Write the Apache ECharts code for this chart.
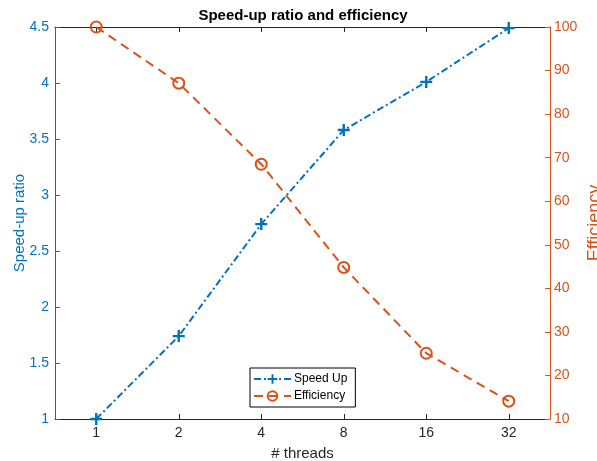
<!DOCTYPE html>
<html>
<head>
<meta charset="utf-8">
<script src="https://cdn.jsdelivr.net/npm/echarts@6/dist/echarts.min.js"></script>
<style>
  html, body { margin: 0; padding: 0; background: #fff; }
  #chart { width: 597px; height: 461px; }
</style>
</head>
<body>
<div id="chart"></div>
<script>
// data
var threads = ['1', '2', '4', '8', '16', '32'];
var speedUp = [1, 1.74, 2.74, 3.58, 4.01, 4.49];
var efficiency = [100, 87.1, 68.5, 44.8, 25.1, 14.1];

var BLUE = '#0072BD';
var ORANGE = '#D95319';
var DARK = '#262626';
var FONT = '"Liberation Sans", Arial, Helvetica, sans-serif';

// plus marker as a filled shape
var PLUS = 'path://M4,0h2v4h4v2h-4v4h-2v-4h-4v-2h4z';

var chart = echarts.init(document.getElementById('chart'));

var option = {
    animation: false,
    backgroundColor: '#fff',
    textStyle: { fontFamily: FONT },
    title: {
        text: 'Speed-up ratio and efficiency',
        left: 298, top: 3,
        textAlign: 'center',
        textStyle: { fontSize: 15, fontWeight: 'bold', color: '#000', fontFamily: FONT }
    },
    grid: { left: 55, right: 47, top: 27, bottom: 42, containLabel: false, outerBoundsMode: 'none' },
    legend: {
        orient: 'vertical',
        left: 250, top: 368,
        padding: [5, 8, 5, 3],
        itemGap: 5,
        itemWidth: 37, itemHeight: 12,
        borderColor: '#000', borderWidth: 1,
        backgroundColor: '#fff',
        textStyle: { fontSize: 12, color: '#000', fontFamily: FONT, padding: [0, 0, 0, -2] },
        data: ['Speed Up', 'Efficiency']
    },
    xAxis: [{
        type: 'category',
        data: threads,
        boundaryGap: true,
        name: '# threads',
        nameLocation: 'middle',
        nameGap: 27,
        nameMoveOverlap: false,
        nameTextStyle: { fontSize: 15, color: DARK },
        axisLine: { lineStyle: { color: DARK, width: 1 } },
        axisTick: { show: true, inside: true, alignWithLabel: true, length: 5, lineStyle: { color: DARK } },
        axisLabel: { fontSize: 14, color: DARK, margin: 7 },
        splitLine: { show: false }
    }, {
        type: 'category',
        gridIndex: 0,
        data: threads,
        position: 'top',
        boundaryGap: true,
        axisLine: { show: true, onZero: false, lineStyle: { color: DARK, width: 1 } },
        axisTick: { show: true, inside: true, interval: 0, alignWithLabel: true, length: 5, lineStyle: { color: DARK, width: 1 } },
        axisLabel: { show: false },
        splitLine: { show: false }
    }],
    yAxis: [{
        type: 'value',
        min: 1, max: 4.5, interval: 0.5,
        position: 'left',
        name: 'Speed-up ratio',
        nameLocation: 'middle',
        nameRotate: 90,
        nameGap: 28,
        nameMoveOverlap: false,
        nameTextStyle: { fontSize: 15, color: BLUE },
        axisLine: { show: true, lineStyle: { color: BLUE, width: 1 } },
        axisTick: { show: true, inside: true, length: 5, lineStyle: { color: BLUE } },
        axisLabel: { fontSize: 14, color: BLUE, margin: 6 },
        splitLine: { show: false }
    }, {
        type: 'value',
        min: 10, max: 100, interval: 10,
        position: 'right',
        name: 'Efficiency',
        nameLocation: 'middle',
        nameRotate: 90,
        nameGap: 36,
        nameMoveOverlap: false,
        nameTextStyle: { fontSize: 18, color: ORANGE },
        axisLine: { show: true, lineStyle: { color: ORANGE, width: 1 } },
        axisTick: { show: true, inside: true, length: 5, lineStyle: { color: ORANGE } },
        axisLabel: { fontSize: 14, color: ORANGE, margin: 4 },
        splitLine: { show: false }
    }],
    series: [{
        name: 'Speed Up',
        type: 'line',
        xAxisIndex: 0,
        yAxisIndex: 0,
        data: speedUp,
        symbol: PLUS,
        symbolSize: 12,
        showAllSymbol: true,
        itemStyle: { color: BLUE },
        lineStyle: { color: BLUE, width: 2, type: [7, 3, 2, 3] }
    }, {
        name: 'Efficiency',
        type: 'line',
        xAxisIndex: 0,
        yAxisIndex: 1,
        data: efficiency,
        symbol: 'circle',
        symbolSize: 11,
        showAllSymbol: true,
        itemStyle: { color: 'rgba(255,255,255,0)', borderColor: ORANGE, borderWidth: 2 },
        lineStyle: { color: ORANGE, width: 2, type: [9, 6] }
    }, {
        // empty series so the top box axis gets its ticks
        type: 'line',
        xAxisIndex: 1,
        yAxisIndex: 0,
        data: [],
        silent: true
    }]
};

chart.setOption(option);
</script>
</body>
</html>
